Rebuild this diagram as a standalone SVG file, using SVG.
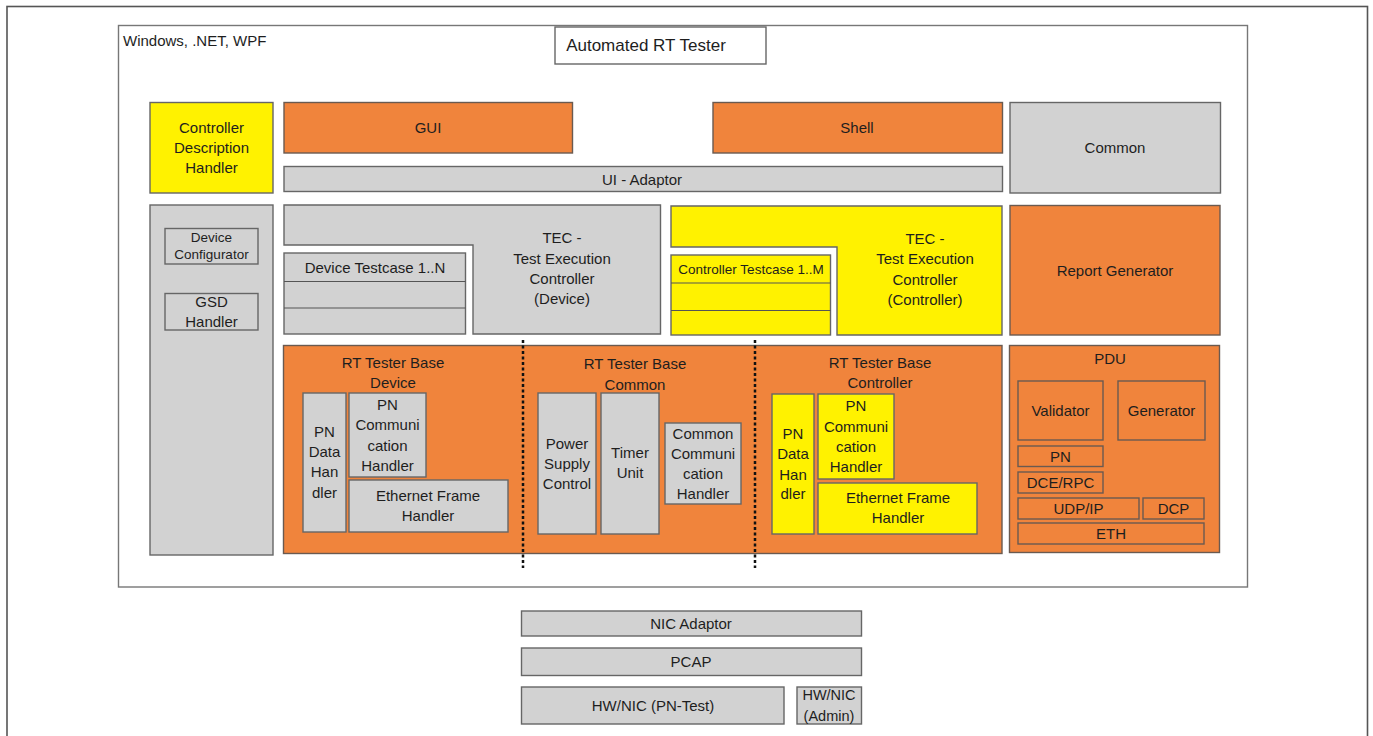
<svg xmlns="http://www.w3.org/2000/svg" width="1373" height="736" viewBox="0 0 1373 736">
<style>
text{font-family:"Liberation Sans",Arial,sans-serif;font-size:15px;fill:#1e1e1e;text-anchor:middle}
.o{fill:#F0843C;stroke:#6a5a50;stroke-width:1.4}
.g{fill:#D2D2D2;stroke:#666;stroke-width:1.4}
.y{fill:#FFF200;stroke:#666;stroke-width:1.4}
.w{fill:#fff;stroke:#666;stroke-width:1.4}
.ln{stroke:#555;stroke-width:1.2;fill:none}
.sm{font-size:13.5px}
.div{stroke:#111;stroke-width:2.5;stroke-dasharray:3 2.5;fill:none}
</style>
<rect x="0" y="0" width="1373" height="736" fill="#fff"/>
<rect x="7" y="6.5" width="1360.5" height="740" fill="none" stroke="#555" stroke-width="1.6"/>
<g id="frame">
<rect x="118.5" y="25.5" width="1129" height="561.5" fill="#fff" stroke="#777" stroke-width="1.4"/>
<text x="123" y="46" style="text-anchor:start">Windows, .NET, WPF</text>
</g>
<g id="title">
<rect class="w" x="555" y="27" width="211" height="37"/>
<text x="646" y="51" style="font-size:17px">Automated RT Tester</text>
</g>
<g id="controller-description-handler">
<rect class="y" x="150" y="102.5" width="123" height="90.5"/>
<text><tspan x="211.5" y="133">Controller</tspan><tspan x="211.5" y="153">Description</tspan><tspan x="211.5" y="173">Handler</tspan></text>
</g>
<g id="gui">
<rect class="o" x="284" y="102.5" width="288.5" height="50.5"/>
<text x="428" y="133">GUI</text>
</g>
<g id="shell">
<rect class="o" x="713" y="102.5" width="289.5" height="50.5"/>
<text x="857" y="133">Shell</text>
</g>
<g id="common">
<rect class="g" x="1010" y="102.5" width="210.5" height="90.5"/>
<text x="1115" y="153">Common</text>
</g>
<g id="ui-adaptor">
<rect class="g" x="284" y="166.5" width="718.5" height="25"/>
<text x="642" y="184.5">UI - Adaptor</text>
</g>
<g id="left-column">
<rect class="g" x="150" y="205" width="123" height="350"/>
</g>
<g id="device-configurator">
<rect class="g" x="165" y="228.5" width="93" height="35.5"/>
<text class="sm"><tspan x="211.5" y="242">Device</tspan><tspan x="211.5" y="259">Configurator</tspan></text>
</g>
<g id="gsd-handler">
<rect class="g" x="165" y="293.5" width="93" height="36.5"/>
<text><tspan x="211.5" y="307">GSD</tspan><tspan x="211.5" y="327">Handler</tspan></text>
</g>
<g id="tec-device">
<polygon class="g" points="284,205 660.5,205 660.5,334 473,334 473,245 284,245"/>
<text><tspan x="562" y="243">TEC -</tspan><tspan x="562" y="264">Test Execution</tspan><tspan x="562" y="284">Controller</tspan><tspan x="562" y="304">(Device)</tspan></text>
</g>
<g id="device-testcase">
<rect class="g" x="284" y="253" width="181.5" height="81"/>
<line class="ln" x1="284" y1="281.5" x2="465.5" y2="281.5"/>
<line class="ln" x1="284" y1="308" x2="465.5" y2="308"/>
<text x="375" y="273">Device Testcase 1..N</text>
</g>
<g id="tec-controller">
<polygon class="y" points="671,206 1002,206 1002,335 837,335 837,247 671,247"/>
<text><tspan x="925" y="244">TEC -</tspan><tspan x="925" y="264">Test Execution</tspan><tspan x="925" y="285">Controller</tspan><tspan x="925" y="305">(Controller)</tspan></text>
</g>
<g id="controller-testcase">
<rect class="y" x="671" y="255" width="159.5" height="80"/>
<line class="ln" x1="671" y1="283" x2="830.5" y2="283"/>
<line class="ln" x1="671" y1="310.5" x2="830.5" y2="310.5"/>
<text class="sm" x="751" y="274">Controller Testcase 1..M</text>
</g>
<g id="report-generator">
<rect class="o" x="1010" y="205.5" width="210" height="129.5"/>
<text x="1115" y="275.5">Report Generator</text>
</g>
<g id="rt-tester-base">
<rect class="o" x="283.5" y="345.5" width="718.5" height="208"/>
</g>
<g id="rt-base-device">
<text><tspan x="393" y="368">RT Tester Base</tspan><tspan x="393" y="388">Device</tspan></text>
</g>
<g id="pn-data-handler-device">
<rect class="g" x="303" y="393" width="43" height="139"/>
<text><tspan x="324.5" y="437">PN</tspan><tspan x="324.5" y="457">Data</tspan><tspan x="324.5" y="477">Han</tspan><tspan x="324.5" y="498">dler</tspan></text>
</g>
<g id="pn-communication-handler-device">
<rect class="g" x="349" y="393" width="77" height="84"/>
<text><tspan x="387.5" y="410">PN</tspan><tspan x="387.5" y="430">Communi</tspan><tspan x="387.5" y="451">cation</tspan><tspan x="387.5" y="471">Handler</tspan></text>
</g>
<g id="ethernet-frame-handler-device">
<rect class="g" x="349" y="480" width="159" height="52"/>
<text><tspan x="428" y="501">Ethernet Frame</tspan><tspan x="428" y="521">Handler</tspan></text>
</g>
<g id="rt-base-common">
<text><tspan x="635" y="369">RT Tester Base</tspan><tspan x="635" y="390">Common</tspan></text>
</g>
<g id="power-supply-control">
<rect class="g" x="538" y="393" width="58" height="141"/>
<text><tspan x="567" y="449">Power</tspan><tspan x="567" y="469">Supply</tspan><tspan x="567" y="489">Control</tspan></text>
</g>
<g id="timer-unit">
<rect class="g" x="601" y="393" width="58" height="141"/>
<text><tspan x="630" y="458">Timer</tspan><tspan x="630" y="478">Unit</tspan></text>
</g>
<g id="common-communication-handler">
<rect class="g" x="665" y="423" width="76" height="81"/>
<text><tspan x="703" y="439">Common</tspan><tspan x="703" y="459">Communi</tspan><tspan x="703" y="479">cation</tspan><tspan x="703" y="499">Handler</tspan></text>
</g>
<g id="rt-base-controller">
<text><tspan x="880" y="368">RT Tester Base</tspan><tspan x="880" y="388">Controller</tspan></text>
</g>
<g id="pn-data-handler-controller">
<rect class="y" x="772" y="394" width="42" height="140"/>
<text><tspan x="793" y="439">PN</tspan><tspan x="793" y="459">Data</tspan><tspan x="793" y="480">Han</tspan><tspan x="793" y="499">dler</tspan></text>
</g>
<g id="pn-communication-handler-controller">
<rect class="y" x="818" y="394" width="76" height="85"/>
<text><tspan x="856" y="411">PN</tspan><tspan x="856" y="432">Communi</tspan><tspan x="856" y="452">cation</tspan><tspan x="856" y="472">Handler</tspan></text>
</g>
<g id="ethernet-frame-handler-controller">
<rect class="y" x="818" y="483" width="159" height="51"/>
<text><tspan x="898" y="503">Ethernet Frame</tspan><tspan x="898" y="523">Handler</tspan></text>
</g>
<g id="dividers">
<line class="div" x1="523" y1="340" x2="523" y2="568"/>
<line class="div" x1="755" y1="340" x2="755" y2="568"/>
</g>
<g id="pdu">
<rect class="o" x="1009.5" y="345.5" width="210" height="207"/>
<text x="1110" y="364">PDU</text>
</g>
<g id="validator">
<rect class="o" x="1018" y="381" width="85" height="59"/>
<text x="1060.5" y="416">Validator</text>
</g>
<g id="generator">
<rect class="o" x="1118" y="381" width="87" height="59"/>
<text x="1161.5" y="416">Generator</text>
</g>
<g id="pdu-pn">
<rect class="o" x="1018" y="446" width="85" height="20.5"/>
<text x="1060.5" y="461.5">PN</text>
</g>
<g id="dce-rpc">
<rect class="o" x="1018" y="472" width="85" height="21"/>
<text x="1060.5" y="488">DCE/RPC</text>
</g>
<g id="udp-ip">
<rect class="o" x="1018" y="498" width="121" height="21"/>
<text x="1078.5" y="514">UDP/IP</text>
</g>
<g id="dcp">
<rect class="o" x="1143" y="498" width="61" height="21"/>
<text x="1173.5" y="514">DCP</text>
</g>
<g id="eth">
<rect class="o" x="1018" y="523" width="186" height="21"/>
<text x="1111" y="539">ETH</text>
</g>
<g id="nic-adaptor">
<rect class="g" x="521.5" y="611" width="340" height="25"/>
<text x="691" y="628.5">NIC Adaptor</text>
</g>
<g id="pcap">
<rect class="g" x="521.5" y="648" width="340" height="27.5"/>
<text x="691" y="666.5">PCAP</text>
</g>
<g id="hw-nic-pn-test">
<rect class="g" x="521.5" y="687" width="262.5" height="37"/>
<text x="653" y="711">HW/NIC (PN-Test)</text>
</g>
<g id="hw-nic-admin">
<rect class="g" x="797" y="687" width="64.5" height="37"/>
<text style="font-size:14.5px"><tspan x="829" y="700">HW/NIC</tspan><tspan x="829" y="721">(Admin)</tspan></text>
</g>
</svg>
